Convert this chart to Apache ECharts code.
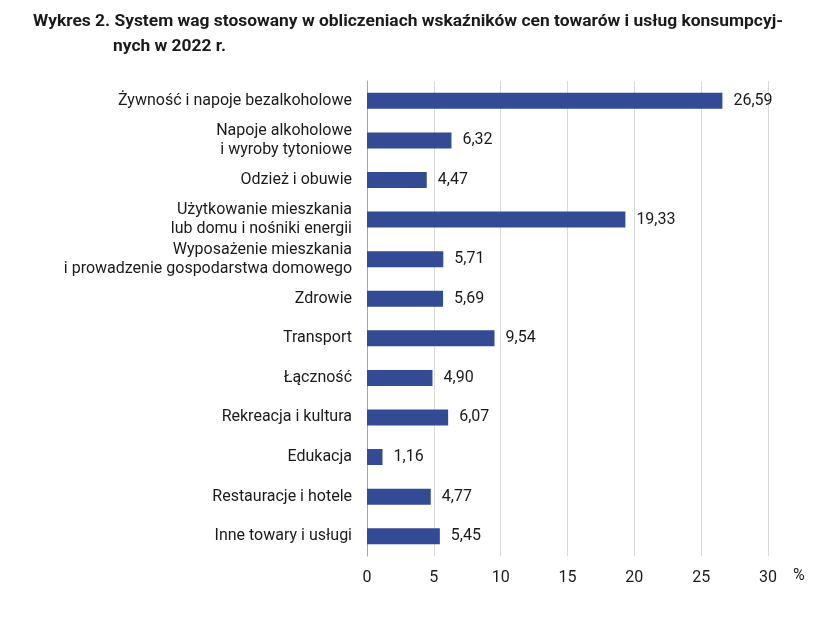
<!DOCTYPE html>
<html><head><meta charset="utf-8">
<script src="https://cdn.jsdelivr.net/npm/echarts@6/dist/echarts.min.js"></script>
<style>html,body{margin:0;padding:0;background:#fff}#c{width:821px;height:643px}</style>
</head><body><div id="c"></div>
<script>
const categories = [
  "Żywność i napoje bezalkoholowe",
  "Napoje alkoholowe\ni wyroby tytoniowe",
  "Odzież i obuwie",
  "Użytkowanie mieszkania\nlub domu i nośniki energii",
  "Wyposażenie mieszkania\ni prowadzenie gospodarstwa domowego",
  "Zdrowie",
  "Transport",
  "Łączność",
  "Rekreacja i kultura",
  "Edukacja",
  "Restauracje i hotele",
  "Inne towary i usługi"
];
const values = [26.59, 6.32, 4.47, 19.33, 5.71, 5.69, 9.54, 4.90, 6.07, 1.16, 4.77, 5.45];
const xTicks = [0, 5, 10, 15, 20, 25, 30];
const titleLine1 = "Wykres 2. System wag stosowany w obliczeniach wskaźników cen towarów i usług konsumpcyj-";
const titleLine2 = "nych w 2022 r.";

const chart = echarts.init(document.getElementById('c'), null, {renderer: 'canvas'});
const font = "Roboto, sans-serif";
const tfont = "Roboto, sans-serif";
chart.setOption({
  animation: false,
  backgroundColor: '#fff',
  title: [
    {text: titleLine1, left: 28, top: 8, textStyle: {fontFamily: tfont, fontWeight: 'bold', fontSize: 17.4, color: '#1a1a1a'}},
    {text: titleLine2, left: 108, top: 33, textStyle: {fontFamily: tfont, fontWeight: 'bold', fontSize: 17.4, color: '#1a1a1a'}}
  ],
  graphic: [{type: 'text', left: 793, top: 568, style: {text: '%', font: "16px " + font, fill: '#1a1a1a'}}],
  grid: {left: 367, right: 53, top: 81, bottom: 87, containLabel: false},
  xAxis: {
    type: 'value', min: 0, max: 30, interval: 5,
    axisLine: {show: false}, axisTick: {show: false},
    splitLine: {show: true, lineStyle: {color: '#d9d9d9', width: 1}},
    axisLabel: {margin: 14, fontFamily: font, fontSize: 16, color: '#1a1a1a',
      formatter: v => xTicks.includes(v) ? String(v) : ''}
  },
  yAxis: {
    type: 'category', data: categories, inverse: true,
    axisLine: {show: true, lineStyle: {color: '#a6a6a6', width: 1}},
    axisTick: {show: false},
    axisLabel: {margin: 15, fontFamily: font, fontSize: 16, color: '#1a1a1a', lineHeight: 19, align: 'right'}
  },
  series: [{
    type: 'bar', data: values, barWidth: 16,
    itemStyle: {color: '#334a94'},
    label: {show: true, position: 'right', distance: 11, fontFamily: font, fontSize: 16, color: '#1a1a1a',
      formatter: p => p.value.toFixed(2).replace('.', ',')}
  }]
});
</script></body></html>
